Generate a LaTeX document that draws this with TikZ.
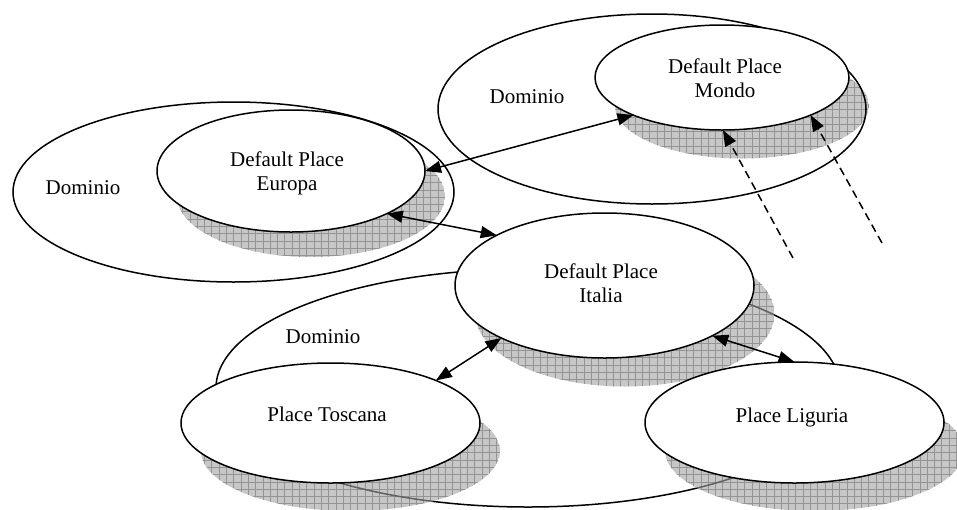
\documentclass[tikz,border=0pt]{standalone}
\usepackage{fontspec}
\setmainfont{Liberation Serif}
\usetikzlibrary{shapes.geometric,arrows.meta,calc}

\tikzset{
  ringline/.style={line width=1.5pt, draw=black},
  placering/.style={ellipse, ringline, fill=white, inner sep=0pt, outer sep=0pt},
  realmring/.style={ellipse, ringline, inner sep=0pt, outer sep=0pt},
  lbl/.style={font=\fontsize{21}{24}\selectfont, align=center, inner sep=0pt},
  headtip/.tip={Triangle[length=16pt,width=12pt]},
  linkarrow/.style={line width=1.5pt, headtip-headtip},
  referarrow/.style={line width=1.5pt, dash pattern=on 8pt off 5pt, -headtip},
  shadefill/.style={fill=black!22},
  shadegrid/.style={draw=black!42, line width=0.6pt},
  seenthrough/.style={line width=1.5pt, draw=black!62},
}

% cast shadow: centre, x radius, y radius
\newcommand\castshadow[3]{%
  \begin{scope}
    \clip #1 ellipse [x radius=#2, y radius=#3];
    \fill[shadefill] #1 ellipse [x radius=#2, y radius=#3];
    \draw[shadegrid, step=7.3pt] ($#1+(-#2,-#3)$) grid ($#1+(#2,#3)$);
  \end{scope}}

\begin{document}
\begin{tikzpicture}[x=1pt, y=-1pt]
  \useasboundingbox[fill=white] (0,0) rectangle (957,509);

  % centres of the places
  \coordinate (cEur) at (291,171);
  \coordinate (cMon) at (722,77.5);
  \coordinate (cIta) at (604.5,285.5);
  \coordinate (cTos) at (330.5,423);
  \coordinate (cLig) at (794.5,422.5);

  % domain of Italia (lies under the shadows)
  \node[realmring, minimum width=624pt, minimum height=238pt] (domIta) at (528,388) {};

  % shadows
  \castshadow{(311,196)}{134}{61}
  \castshadow{(742,106)}{127}{52.5}
  \castshadow{(625,314)}{149.5}{72.5}
  \castshadow{(350.5,451)}{149.5}{60}
  \castshadow{(814.5,450.5)}{149.5}{60.5}

  % domain outline showing through the shadows
  \begin{scope}
    \clip (625,314) ellipse [x radius=149.5, y radius=72.5];
    \draw[seenthrough] (domIta.center) ellipse [x radius=312, y radius=119];
  \end{scope}
  \begin{scope}
    \clip (350.5,451) ellipse [x radius=149.5, y radius=60];
    \draw[seenthrough] (domIta.center) ellipse [x radius=312, y radius=119];
  \end{scope}
  \begin{scope}
    \clip (814.5,450.5) ellipse [x radius=149.5, y radius=60.5];
    \draw[seenthrough] (domIta.center) ellipse [x radius=312, y radius=119];
  \end{scope}

  % domains of Europa and Mondo
  \node[realmring, minimum width=441pt, minimum height=180pt,
        preaction={draw=white, line width=4pt}] (domEur) at (233.5,192) {};
  \node[realmring, minimum width=428pt, minimum height=190pt] (domMon) at (652,109) {};

  % places
  \node[placering, minimum width=268pt, minimum height=122pt] (eur) at (cEur) {};
  \node[placering, minimum width=254pt, minimum height=105pt] (mon) at (cMon) {};
  \node[placering, minimum width=299pt, minimum height=145pt] (ita) at (cIta) {};
  \node[placering, minimum width=299pt, minimum height=120pt] (tos) at (cTos) {};
  \node[placering, minimum width=299pt, minimum height=121pt] (lig) at (cLig) {};

  % labels
  \node[lbl] (tEur) at (287,173) {Default Place\\Europa};
  \node[lbl] (tMon) at (725,78) {Default Place\\Mondo};
  \node[lbl] (tIta) at (601,283) {Default Place\\Italia};
  \node[lbl] (tTos) at (327,414) {Place Toscana};
  \node[lbl, text height=14pt, text depth=0pt] (tLig) at (792,415) {Place Liguria};
  \node[lbl] (dEur) at (83,188) {Dominio};
  \node[lbl] (dMon) at (527,97) {Dominio};
  \node[lbl] (dIta) at (323,337) {Dominio};

  % links between places
  \draw[linkarrow] (eur.0) -- (mon.-157.9);
  \draw[linkarrow] (eur.-24) -- (ita.155.7);
  \draw[linkarrow] (tos.22) -- (ita.-153.5);
  \draw[linkarrow] (ita.-25.6) -- (lig.90);

  % references coming into Mondo
  \coordinate (r1) at (793,258);
  \coordinate (r2) at (882,243);
  \draw[referarrow] (r1) -- (mon.-89);
  \draw[referarrow] (r2) -- (mon.-23.5);
\end{tikzpicture}
\end{document}
